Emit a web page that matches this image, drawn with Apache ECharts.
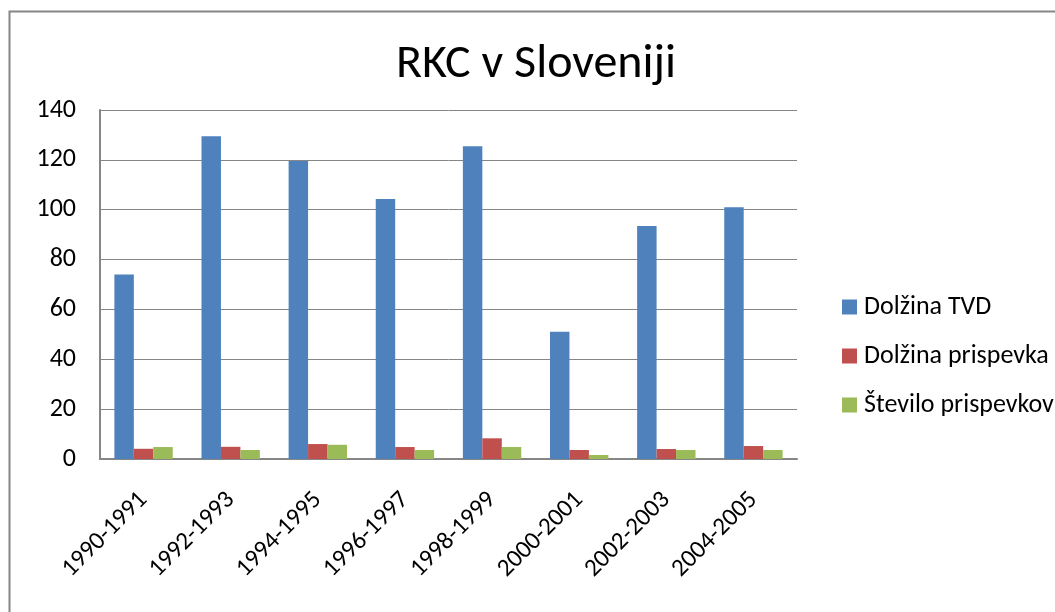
<!DOCTYPE html>
<html>
<head>
<meta charset="utf-8">
<script src="https://cdn.jsdelivr.net/npm/echarts@6/dist/echarts.min.js"></script>
<style>
  html, body { margin: 0; padding: 0; background: #fff; }
  #chart { width: 1055px; height: 612px; }
</style>
</head>
<body>
<div id="chart"></div>
<script>
const periods = ['1990-1991', '1992-1993', '1994-1995', '1996-1997', '1998-1999', '2000-2001', '2002-2003', '2004-2005'];
const dolzinaTvd = [74, 129.5, 119.5, 104.3, 125.5, 51, 93.5, 101];
const dolzinaPrispevka = [4.1, 4.9, 6, 4.8, 8.3, 3.6, 4, 5.2];
const steviloPrispevkov = [4.8, 3.6, 5.7, 3.6, 4.8, 1.6, 3.6, 3.6];
const seriesNames = ['Dolžina TVD', 'Dolžina prispevka', 'Število prispevkov'];
const palette = ['#4f81bd', '#c0504d', '#9bbb59'];

const font = 'Carlito, Calibri, "Open Sans", sans-serif';

const chart = echarts.init(document.getElementById('chart'));

const makeSeries = (name, data) => ({
  name,
  type: 'bar',
  data,
  barGap: '0%',
  barCategoryGap: '33%',
  itemStyle: { borderWidth: 0 },
  emphasis: { disabled: true },
});

chart.setOption({
  animation: false,
  color: palette,
  title: {
    text: 'RKC v Sloveniji',
    left: 531,
    textAlign: 'center',
    top: 36,
    textStyle: { fontFamily: font, fontSize: 48, fontWeight: 'normal', color: '#000' },
  },
  legend: {
    orient: 'vertical',
    left: 837,
    top: 289,
    itemWidth: 15,
    itemHeight: 15,
    itemGap: 23,
    icon: 'rect',
    textStyle: { fontFamily: font, fontSize: 26, color: '#000', padding: [0, 0, 0, 2] },
    data: seriesNames,
  },
  grid: { left: 100, right: 258, top: 110, bottom: 153 },
  xAxis: {
    type: 'category',
    data: periods,
    axisLine: { lineStyle: { color: '#868686', width: 2 } },
    axisTick: { show: false },
    axisLabel: {
      rotate: 45,
      margin: 37,
      fontFamily: font,
      fontSize: 25,
      color: '#000',
    },
  },
  yAxis: {
    type: 'value',
    min: 0,
    max: 140,
    interval: 20,
    axisLine: { show: true, lineStyle: { color: '#868686', width: 2 } },
    axisTick: { show: false },
    splitLine: { lineStyle: { color: '#868686', width: 1 } },
    axisLabel: { margin: 24, fontFamily: font, fontSize: 26, color: '#000' },
  },
  graphic: [{
    type: 'rect',
    shape: { x: 9.5, y: 11.5, width: 1100, height: 700 },
    style: { fill: 'none', stroke: '#868686', lineWidth: 2 },
    silent: true,
  }],
  series: [
    makeSeries(seriesNames[0], dolzinaTvd),
    makeSeries(seriesNames[1], dolzinaPrispevka),
    makeSeries(seriesNames[2], steviloPrispevkov),
  ],
});
</script>
</body>
</html>
